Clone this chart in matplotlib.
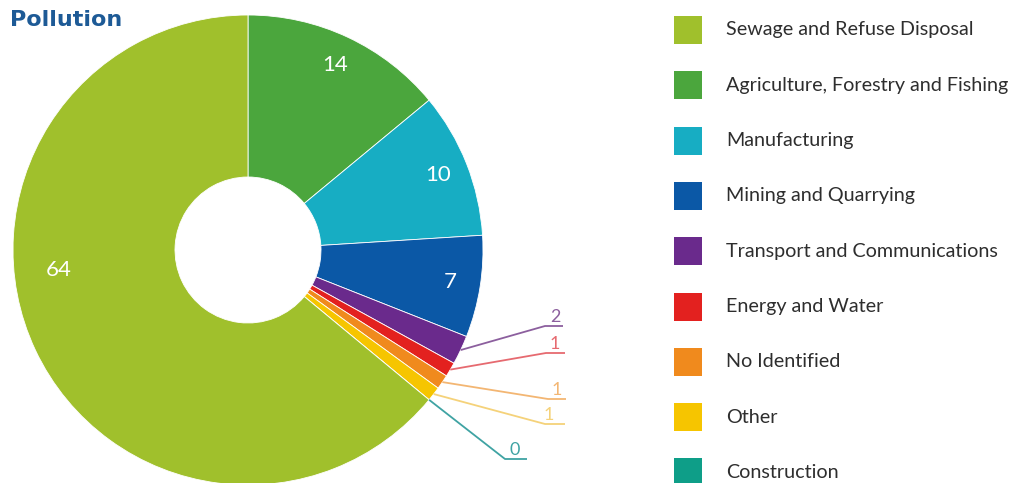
import numpy as np
import matplotlib.pyplot as plt
from matplotlib.patches import Rectangle

# sectors in drawing order (clockwise from 12 o'clock)
sectors = ['Agriculture, Forestry and Fishing', 'Manufacturing', 'Mining and Quarrying',
           'Transport and Communications', 'Energy and Water', 'No Identified',
           'Other', 'Construction', 'Sewage and Refuse Disposal']
values = [14, 10, 7, 2, 1, 1, 1, 0, 64]
colors = ['#4ba63d', '#17adc3', '#0b58a6', '#6a2a8c', '#e3211f', '#f08a1d',
          '#f6c500', '#0e9e88', '#a0c02c']

# legend order
legend_order = ['Sewage and Refuse Disposal', 'Agriculture, Forestry and Fishing',
                'Manufacturing', 'Mining and Quarrying', 'Transport and Communications',
                'Energy and Water', 'No Identified', 'Other', 'Construction']

W, H = 1016, 483
fig = plt.figure(figsize=(W / 100, H / 100), dpi=100)
ax = fig.add_axes([0, 0, 1, 1])


def py(y):
    # pixel row (from top) -> data y
    return H - y


cx, cy, R, hole = 248, py(250), 235, 73
wedges, _ = ax.pie(values, colors=colors, startangle=90, counterclock=False,
                   center=(cx, cy), radius=R, frame=True,
                   wedgeprops=dict(width=R - hole, edgecolor='white', linewidth=0.6))
ax.set_xlim(0, W)
ax.set_ylim(0, H)
ax.set_aspect('equal')
ax.axis('off')


def mid_angle(w):
    return np.deg2rad((w.theta1 + w.theta2) / 2)


# values written inside the ring
inside = {'Agriculture, Forestry and Fishing': None, 'Manufacturing': None,
          'Mining and Quarrying': None, 'Sewage and Refuse Disposal': np.deg2rad(-174)}
for name, ang in inside.items():
    i = sectors.index(name)
    a = mid_angle(wedges[i]) if ang is None else ang
    r = 0.87 * R if ang is None else 0.81 * R
    ax.text(cx + r * np.cos(a), cy + r * np.sin(a), str(values[i]), color='white',
            fontsize=16, ha='center', va='center', family='Lato')

# leader lines for the thin slices: elbow x/y, underline end x, label x
leaders = {
    'Transport and Communications': (545, 326, 563, 555, '#8c5f9e'),
    'Energy and Water': (546, 353, 565, 555, '#e66a70'),
    'No Identified': (548, 399, 566, 557, '#f3b673'),
    'Other': (545, 424, 565, 549, '#f5d27a'),
    'Construction': (505, 459, 527, 515, '#3fa3a3'),
}
for name, (ex, ey, ux, tx, lc) in leaders.items():
    i = sectors.index(name)
    a = mid_angle(wedges[i])
    sx, sy = cx + R * np.cos(a), cy + R * np.sin(a)
    ax.plot([sx, ex, ux], [sy, py(ey), py(ey)], color=lc, lw=1.3,
            solid_capstyle='butt')
    ax.text(tx, py(ey) + 1, str(values[i]), color=lc, fontsize=13,
            ha='center', va='bottom', family='Lato')

fig.text(10 / W, 1 - 20 / H, 'Pollution', color='#1d5a96', fontsize=16,
         fontweight='bold', family='DejaVu Sans', ha='left', va='center')

# legend drawn as squares and labels down the right side
for k, name in enumerate(legend_order):
    yc = 30 + k * 55.3
    c = colors[sectors.index(name)]
    fig.patches.append(Rectangle((674 / W, 1 - (yc + 14) / H), 28 / W, 28 / H,
                                 transform=fig.transFigure, facecolor=c,
                                 edgecolor='none'))
    fig.text(726 / W, 1 - yc / H, name, color='#2e2e2e', fontsize=14.2,
             family='Lato', ha='left', va='center')

fig.savefig('out.png', dpi=100, facecolor='white')
